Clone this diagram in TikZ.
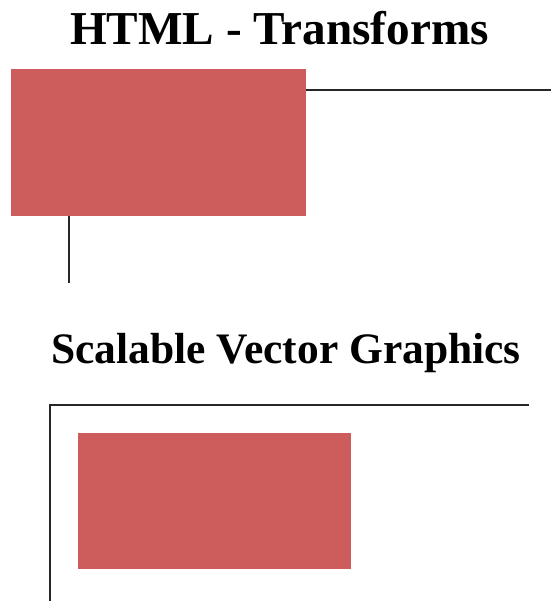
\documentclass[tikz,border=0pt]{standalone}
\usepackage{fontspec}
\setmainfont{Liberation Serif}
\definecolor{indianred}{HTML}{CD5C5C}
\tikzset{
  heading/.style={anchor=base west, inner sep=0pt, font=\bfseries},
  redbox/.style={fill=indianred, draw=none},
  axisline/.style={draw=black!85, line width=1.3pt}
}
\begin{document}
\begin{tikzpicture}[x=1pt, y=-1pt]
  \useasboundingbox (0,0) rectangle (551,601);
  % upper section: transformed box with its axes
  \node[heading, font=\bfseries\fontsize{47.2}{51}\selectfont] (t1) at (70,45) {HTML - Transforms};
  \coordinate (hx0) at (306,90);
  \coordinate (hx1) at (551,90);
  \coordinate (vy0) at (69,216);
  \coordinate (vy1) at (69,283);
  \draw[axisline] (hx0) -- (hx1);
  \draw[axisline] (vy0) -- (vy1);
  \fill[redbox] (11,69) rectangle (306,216.5);
  % lower section: svg canvas
  \node[heading, font=\bfseries\fontsize{43.5}{47}\selectfont] (t2) at (51,363) {Scalable Vector Graphics};
  \coordinate (c0) at (50,601);
  \coordinate (c1) at (50,405);
  \coordinate (c2) at (529,405);
  \draw[axisline] (c0) -- (c1) -- (c2);
  \fill[redbox] (78,433) rectangle (350.5,569);
\end{tikzpicture}
\end{document}
